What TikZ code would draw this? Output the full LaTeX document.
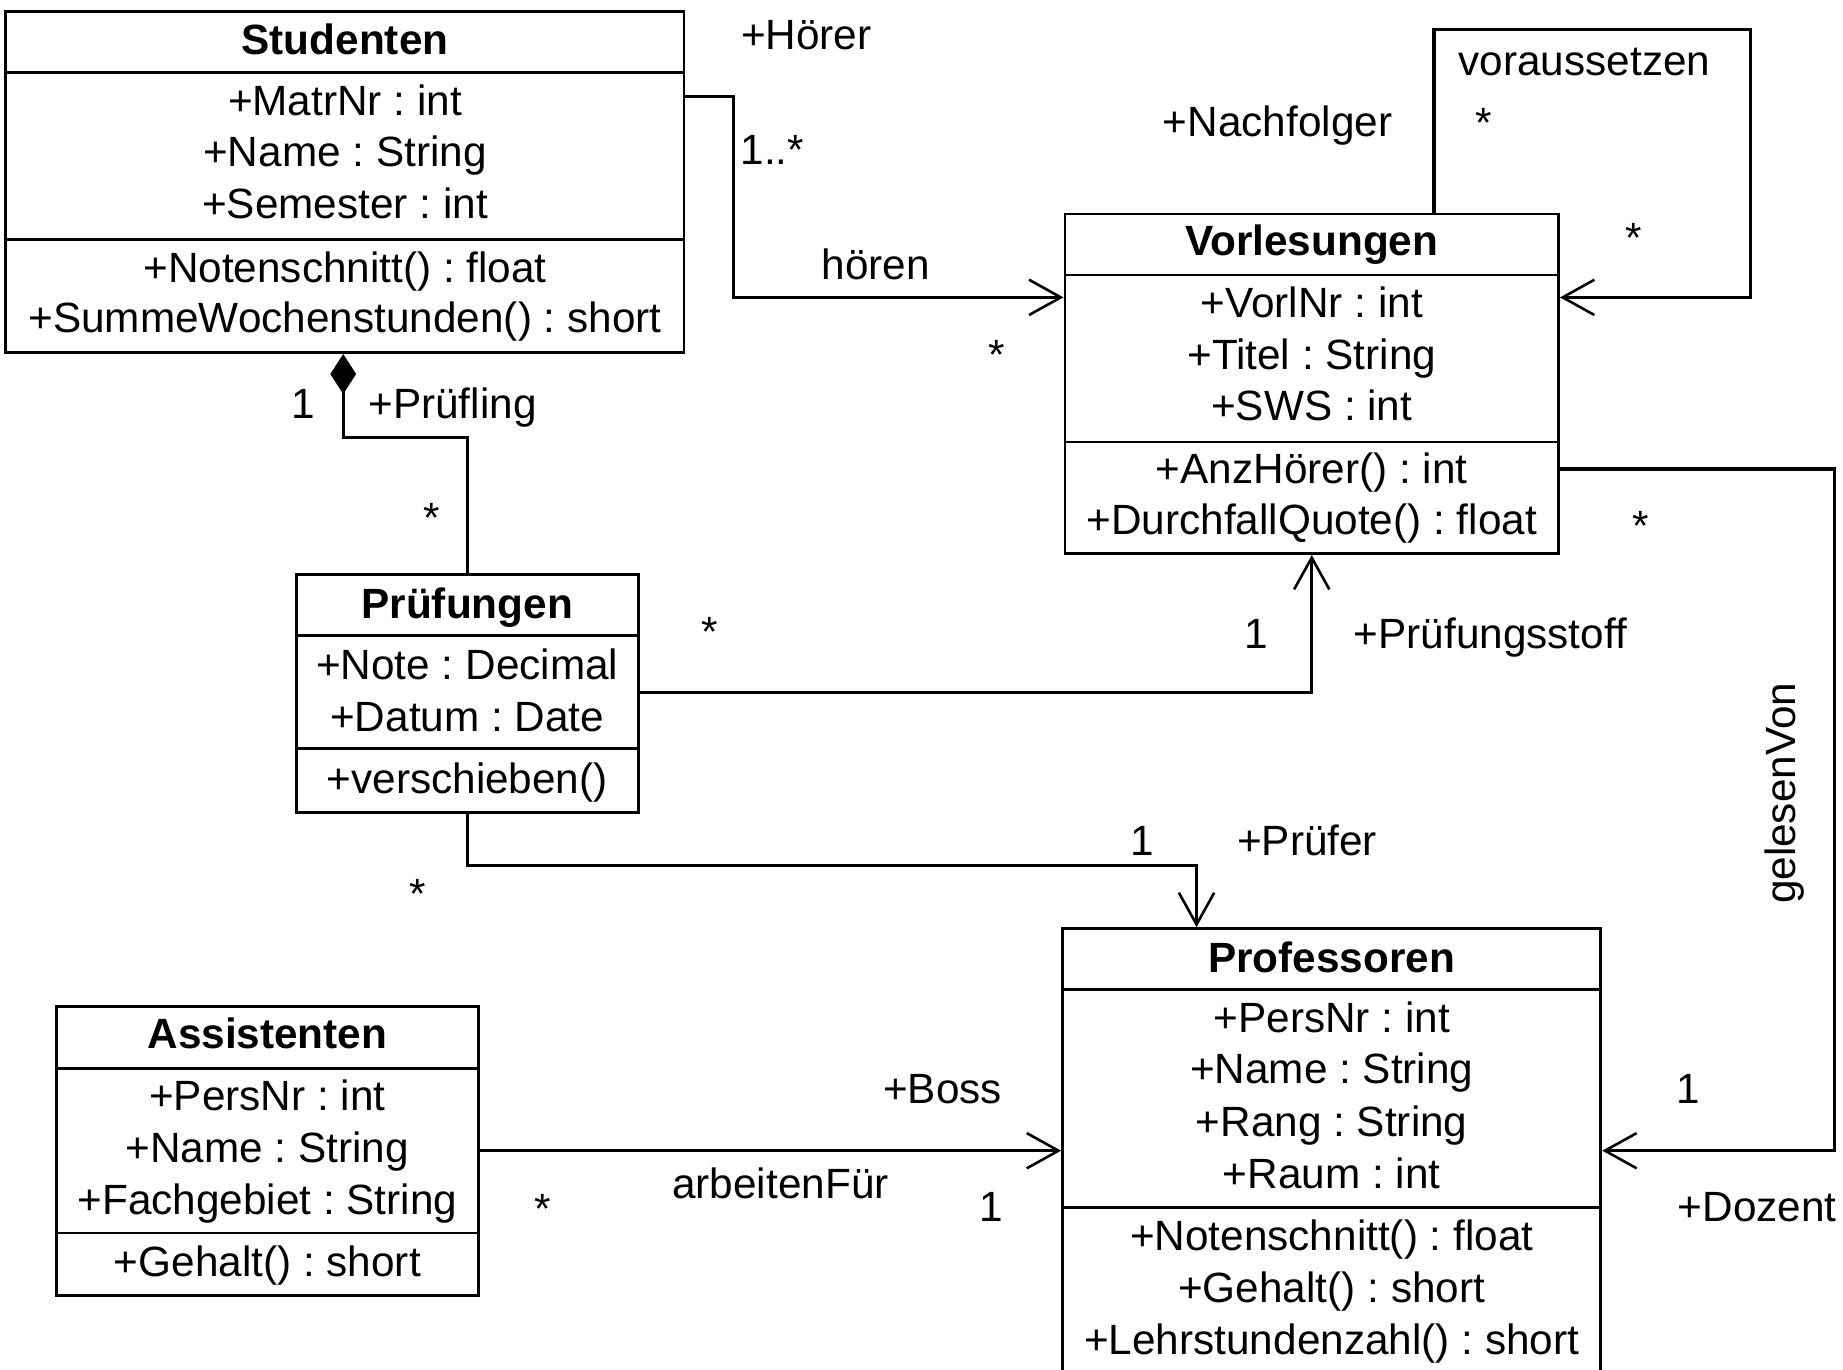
\documentclass[tikz,border=0pt]{standalone}
\usepackage{fontspec}
\setmainfont{Liberation Sans}
\usetikzlibrary{arrows.meta,calc}
\begin{document}
\frenchspacing
\begin{tikzpicture}[x=1pt,y=-1pt,line width=2.4pt,
  classbox/.style={draw=black,rectangle,inner sep=0pt,outer sep=1.2pt,line width=2.4pt},
  ln/.style={font=\fontsize{36}{42}\selectfont,inner sep=0pt,anchor=base},
  ttl/.style={font=\fontsize{36}{42}\selectfont\bfseries,inner sep=0pt,anchor=base},
  sep/.style={draw=black,line width=2.4pt},
  assoc/.style={draw=black,line width=2.6pt,-{Straight Barb[length=27pt,width=30pt,line width=2.2pt]}},
  comp/.style={draw=black,line width=2.6pt,{Diamond[length=34pt,width=22pt]}-},
]
\path[use as bounding box] (0,0) rectangle (1568,1165);
\clip (0,0) rectangle (1568,1165);
\fill[white] (0,0) rectangle (1568,1165);

% ---------- class boxes ----------
\node[classbox,minimum width=577pt,minimum height=290pt] (stud) at (293.5,155) {};
\node[classbox,minimum width=420pt,minimum height=289pt] (vorl) at (1116,326.5) {};
\node[classbox,minimum width=291pt,minimum height=202pt] (pruef) at (397.5,590) {};
\node[classbox,minimum width=458pt,minimum height=385pt] (prof) at (1133,982.5) {};
\node[classbox,minimum width=359pt,minimum height=246pt] (assi) at (227.5,979) {};

% separators
\draw[sep] (stud.west |- 0,62) -- (stud.east |- 0,62);
\draw[sep] (stud.west |- 0,204) -- (stud.east |- 0,204);
\draw[sep] (vorl.west |- 0,234) -- (vorl.east |- 0,234);
\draw[sep] (vorl.west |- 0,376) -- (vorl.east |- 0,376);
\draw[sep] (pruef.west |- 0,541) -- (pruef.east |- 0,541);
\draw[sep] (pruef.west |- 0,637) -- (pruef.east |- 0,637);
\draw[sep] (prof.west |- 0,842) -- (prof.east |- 0,842);
\draw[sep] (prof.west |- 0,1027) -- (prof.east |- 0,1027);
\draw[sep] (assi.west |- 0,909) -- (assi.east |- 0,909);
\draw[sep] (assi.west |- 0,1049) -- (assi.east |- 0,1049);

% ---------- texts: Studenten ----------
\node[ttl] (studT) at (293.5,46) {Studenten};
\node[ln] (studA1) at (293.5,98) {+MatrNr : int};
\node[ln] (studA2) at (293.5,142) {+Name : String};
\node[ln] (studA3) at (293.5,186) {+Semester : int};
\node[ln] (studM1) at (293.5,240) {+Notenschnitt() : float};
\node[ln] (studM2) at (293.5,283) {+SummeWochenstunden() : short};

% Vorlesungen
\node[ttl] (vorlT) at (1116,217) {Vorlesungen};
\node[ln] (vorlA1) at (1116,270) {+VorlNr : int};
\node[ln] (vorlA2) at (1116,314) {+Titel : String};
\node[ln] (vorlA3) at (1116,358) {+SWS : int};
\node[ln] (vorlM1) at (1116,411) {+AnzHörer() : int};
\node[ln] (vorlM2) at (1116,455) {+DurchfallQuote() : float};

% Pruefungen
\node[ttl] (pruefT) at (397.5,526) {Prüfungen};
\node[ln] (pruefA1) at (397.5,578) {+Note : Decimal};
\node[ln] (pruefA2) at (397.5,622) {+Datum : Date};
\node[ln] (pruefM1) at (397.5,675) {+verschieben()};

% Professoren
\node[ttl] (profT) at (1133,827) {Professoren};
\node[ln] (profA1) at (1133,878) {+PersNr : int};
\node[ln] (profA2) at (1133,922) {+Name : String};
\node[ln] (profA3) at (1133,967) {+Rang : String};
\node[ln] (profA4) at (1133,1011) {+Raum : int};
\node[ln] (profM1) at (1133,1064) {+Notenschnitt() : float};
\node[ln] (profM2) at (1133,1108) {+Gehalt() : short};
\node[ln] (profM3) at (1133,1152) {+Lehrstundenzahl() : short};

% Assistenten
\node[ttl] (assiT) at (227.5,892) {Assistenten};
\node[ln] (assiA1) at (227.5,945) {+PersNr : int};
\node[ln] (assiA2) at (227.5,989) {+Name : String};
\node[ln] (assiA3) at (227.5,1033) {+Fachgebiet : String};
\node[ln] (assiM1) at (227.5,1086) {+Gehalt() : short};

% ---------- connectors ----------
\draw[assoc] (stud.east |- 0,82) -- (624,82) -- (624,253) -- (vorl.west |- 0,253);
\draw[assoc] (vorl.north -| 1220,0) -- (1220,25) -- (1489,25) -- (1489,253) -- (vorl.east |- 0,253);
\draw[comp] (stud.south -| 292,0) -- (292,372) -- (398,372) -- (pruef.north -| 398,0);
\draw[assoc] (pruef.east |- 0,589) -- (1116,589) -- (vorl.south -| 1116,0);
\draw[assoc] (pruef.south -| 398,0) -- (398,736) -- (1018,736) -- (prof.north -| 1018,0);
\draw[assoc] (vorl.east |- 0,399) -- (1561,399) -- (1561,979) -- (prof.east |- 0,979);
\draw[assoc] (assi.east |- 0,979) -- (prof.west |- 0,979);

% ---------- labels ----------
\node[ln] (lHoerer) at (686,42) {+Hörer};
\node[ln] (lMult1) at (657,140) {1..*};
\node[ln] (lHoeren) at (745,238) {hören};
\node[ln] (lStar1) at (848,314) {*};
\node[ln] (lVor) at (1348,64) {voraussetzen};
\node[ln] (lStar2) at (1262,117) {*};
\node[ln] (lNach) at (1087,116) {+Nachfolger};
\node[ln] (lStar3) at (1390,215) {*};
\node[ln] (lOne1) at (258,356) {1};
\node[ln] (lPruefling) at (385,356) {+Prüfling};
\node[ln] (lStar4) at (367,453) {*};
\node[ln] (lStar5) at (604,550) {*};
\node[ln] (lOne2) at (1069,552) {1};
\node[ln] (lStoff) at (1268,552) {+Prüfungsstoff};
\node[ln] (lStar6) at (355,773) {*};
\node[ln] (lOne3) at (972,728) {1};
\node[ln] (lPruefer) at (1112,728) {+Prüfer};
\node[ln] (lStar7) at (1396,460) {*};
\node[font=\fontsize{36}{42}\selectfont,inner sep=0pt,rotate=90] (lGelesen) at (1518,675) {gelesenVon};
\node[ln] (lOne4) at (1436,939) {1};
\node[ln] (lDozent) at (1495,1039) {+Dozent};
\node[ln] (lBoss) at (802,939) {+Boss};
\node[ln] (lArbeit) at (664,1020) {arbeitenFür};
\node[ln] (lStar8) at (462,1041) {*};
\node[ln] (lOne5) at (843,1039) {1};
\end{tikzpicture}
\end{document}
